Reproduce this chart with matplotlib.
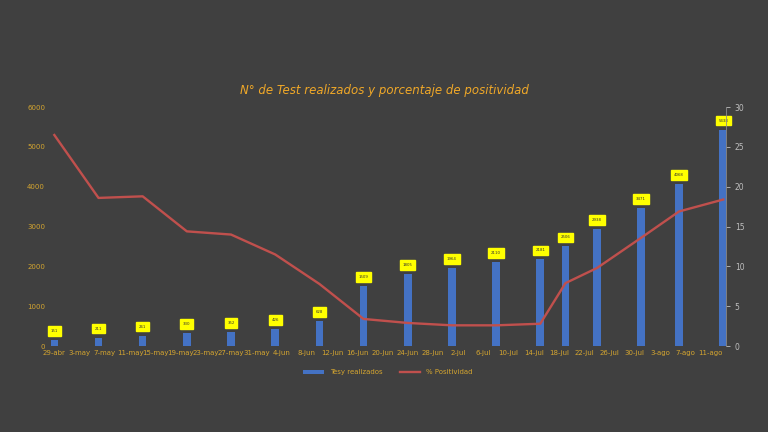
import matplotlib
matplotlib.use("Agg")
import matplotlib.pyplot as plt
import datetime as dt

# datos
fechas = ["2020-04-29", "2020-05-06", "2020-05-13", "2020-05-20", "2020-05-27",
          "2020-06-03", "2020-06-10", "2020-06-17", "2020-06-24", "2020-07-01",
          "2020-07-08", "2020-07-15", "2020-07-19", "2020-07-24", "2020-07-31",
          "2020-08-06", "2020-08-13"]
tests = [151, 211, 261, 330, 352, 426, 628, 1509, 1805, 1964,
         2110, 2181, 2506, 2938, 3471, 4068, 5438]
positividad = [26.5, 18.6, 18.8, 14.4, 14.0, 11.5, 7.8, 3.4, 2.9, 2.6,
               2.6, 2.8, 7.9, 9.8, 13.6, 16.9, 18.4]
meses = {4: "abr", 5: "may", 6: "jun", 7: "jul", 8: "ago"}

x = [dt.datetime.strptime(f, "%Y-%m-%d") for f in fechas]

bg = "#404040"
oro = "#d4a530"
azul = "#4472c4"
rojo = "#c0504d"

fig = plt.figure(figsize=(7.68, 4.32), dpi=100, facecolor=bg)
ax = fig.add_axes([0.065, 0.199, 0.88, 0.553])
ax.set_facecolor(bg)

ax.bar(x, tests, width=1.2, color=azul, label="Tesy realizados", zorder=2)
# etiquetas amarillas
for xi, v in zip(x, tests):
    ax.annotate(str(v), (xi, v), xytext=(0, 5), textcoords="offset points",
                ha="center", va="bottom", fontsize=2.8, color="#333333",
                bbox=dict(boxstyle="square,pad=0.7", fc="#ffff00", ec="#ffff00"),
                zorder=4)

ax.set_ylim(0, 6000)
ax.set_yticks(range(0, 6001, 1000))
ax.tick_params(axis="y", colors=oro, labelsize=5, length=0)

inicio = dt.datetime(2020, 4, 29)
ticks = [inicio + dt.timedelta(days=4 * i) for i in range(27)]
ax.set_xticks(ticks)
ax.set_xticklabels([f"{t.day}-{meses[t.month]}" for t in ticks])
ax.tick_params(axis="x", colors=oro, labelsize=5, length=0, pad=3)
ax.set_xlim(inicio - dt.timedelta(days=0.7), inicio + dt.timedelta(days=106.4))

for s in ax.spines.values():
    s.set_visible(False)

ax2 = ax.twinx()
ax2.plot(x, positividad, color=rojo, lw=1.7, label="% Positividad", zorder=3)
ax2.set_ylim(0, 30)
ax2.set_yticks(range(0, 31, 5))
ax2.tick_params(axis="y", colors="#bfbfbf", labelsize=5.5, length=3, width=0.6)
for s in ["top", "left", "bottom"]:
    ax2.spines[s].set_visible(False)
ax2.spines["right"].set_color("#8c8c8c")
ax2.spines["right"].set_linewidth(0.6)

fig.text(0.5, 0.79, "N° de Test realizados y porcentaje de positividad",
         ha="center", va="center", fontsize=8.5, style="italic", color="#f0a828")

h1, l1 = ax.get_legend_handles_labels()
h2, l2 = ax2.get_legend_handles_labels()
fig.legend(h1 + h2, l1 + l2, loc="center", bbox_to_anchor=(0.505, 0.138),
           ncol=2, frameon=False, fontsize=5, labelcolor=oro,
           handlelength=3, handleheight=0.5, columnspacing=2.5)

fig.savefig("out.png", dpi=100, facecolor=bg)
